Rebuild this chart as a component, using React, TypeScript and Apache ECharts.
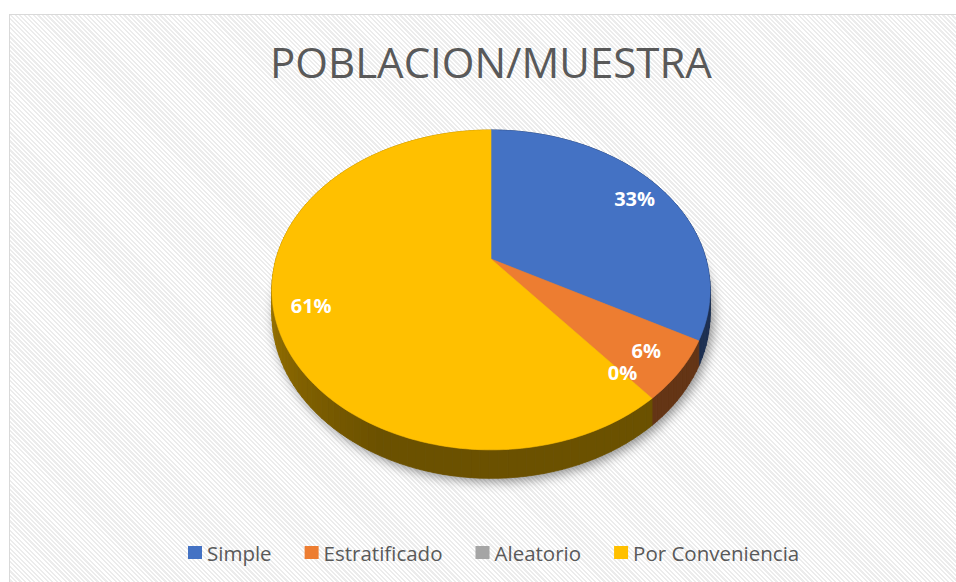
import React, { useEffect, useRef } from "react";
import * as echarts from "echarts";

const TITLE = "POBLACION/MUESTRA";
const categories = ["Simple", "Estratificado", "Aleatorio", "Por Conveniencia"];
const values = [33, 6, 0, 61];
const colors = ["#4472C4", "#ED7D31", "#A5A5A5", "#FFC000"];

// 3D pie geometry (layout, not data)
const CX = 491;
const CY = 259;
const R = 215;
const SIN_A = 0.716;
const COS_A = 0.698;
const DIST = 776;
const THICK = 23;
const FONT = '"Open Sans", "Noto Sans", sans-serif';

function proj(deg: number, k = 1, h = 0): number[] {
  const t = (deg * Math.PI) / 180;
  const X = k * R * Math.sin(t);
  const Yd = -k * R * Math.cos(t);
  const s = DIST / (DIST - Yd * COS_A);
  return [CX + X * s, CY + Yd * SIN_A * s + h * s];
}

function shade(hex: string, m: number): string {
  const n = parseInt(hex.slice(1), 16);
  const r = Math.round(((n >> 16) & 255) * m);
  const g = Math.round(((n >> 8) & 255) * m);
  const b = Math.round((n & 255) * m);
  return `rgb(${r},${g},${b})`;
}

function sideMult(deg: number): number {
  const d = ((deg % 360) + 360) % 360;
  if (d <= 205) return 0.42;
  if (d >= 272) return 0.64;
  return 0.42 + (0.22 * (d - 205)) / 67;
}

export default function App() {
  const ref = useRef<HTMLDivElement>(null);
  useEffect(() => {
    document.body.style.margin = "0";
    const chart = echarts.init(ref.current!, null, { renderer: "svg" });
    const total = values.reduce((a, b) => a + b, 0);
    let acc = 0;
    const sliceSeries: any[] = categories.map((name, i) => {
      const start = (acc / total) * 100;
      acc += values[i];
      const end = (acc / total) * 100;
      const pct = Math.round((values[i] / total) * 100);
      const color = colors[i];
      return {
        type: "custom",
        name,
        coordinateSystem: "none",
        itemStyle: { color },
        data: [{ name, value: [start, end, pct] }],
        renderItem: (_p: any, api: any) => {
          const a0 = api.value(0) * 3.6;
          const a1 = api.value(1) * 3.6;
          const p = api.value(2);
          const children: any[] = [];
          if (a1 > a0) {
            const step = 2;
            for (let a = a0; a < a1 - 1e-9; a += step) {
              const b = Math.min(a + step, a1);
              const c = shade(color, sideMult((a + b) / 2));
              children.push({
                type: "polygon",
                z2: 1,
                shape: { points: [proj(a), proj(b), proj(b, 1, THICK), proj(a, 1, THICK)] },
                style: { fill: c, stroke: c, lineWidth: 0.8 },
              });
            }
            const pts: number[][] = [[CX, CY]];
            for (let a = a0; a < a1; a += 1) pts.push(proj(a));
            pts.push(proj(a1));
            children.push({
              type: "polygon",
              z2: 10,
              shape: { points: pts },
              style: { fill: color, stroke: color, lineWidth: 0.6 },
            });
          }
          const lp = proj((a0 + a1) / 2, 0.84);
          children.push({
            type: "text",
            z2: 20,
            x: lp[0],
            y: lp[1],
            style: {
              text: p + "%",
              fill: "#ffffff",
              font: `bold 20px ${FONT}`,
              align: "center",
              verticalAlign: "middle",
            },
          });
          return { type: "group", children };
        },
      };
    });

    const shadowSeries = {
      type: "custom",
      name: "shadow",
      coordinateSystem: "none",
      silent: true,
      data: [[0]],
      renderItem: () => {
        const pts: number[][] = [];
        for (let a = 0; a < 360; a += 2) pts.push(proj(a, 1, THICK));
        return {
          type: "polygon",
          z2: 0,
          shape: { points: pts },
          style: {
            fill: "#888",
            shadowBlur: 12,
            shadowOffsetX: 3,
            shadowOffsetY: 3,
            shadowColor: "rgba(0,0,0,0.45)",
          },
        };
      },
    };

    chart.setOption({
      animation: false,
      color: colors,
      title: {
        text: TITLE,
        left: 486,
        top: 35,
        textAlign: "center",
        textStyle: { fontFamily: FONT, fontSize: 42, fontWeight: "normal", color: "#595959" },
      },
      legend: {
        data: categories,
        left: 183,
        top: 537,
        icon: "rect",
        itemWidth: 14,
        itemHeight: 13,
        itemGap: 33,
        textStyle: { fontFamily: FONT, fontSize: 20.5, color: "#595959" },
      },
      series: [shadowSeries, ...sliceSeries],
    });
    return () => chart.dispose();
  }, []);

  return (
    <div style={{ position: "relative", width: 956, height: 582, overflow: "hidden", background: "#fff" }}>
      <div
        style={{
          position: "absolute",
          left: 9,
          top: 14,
          width: 980,
          height: 600,
          border: "1.5px solid #d9d9d9",
          backgroundColor: "#fff",
          backgroundImage:
            "repeating-linear-gradient(45deg, #ffffff 0px, #ffffff 1.6px, #ececec 1.6px, #ececec 3.2px)",
        }}
      />
      <div ref={ref} style={{ position: "absolute", left: 0, top: 0, width: 956, height: 582 }} />
    </div>
  );
}
